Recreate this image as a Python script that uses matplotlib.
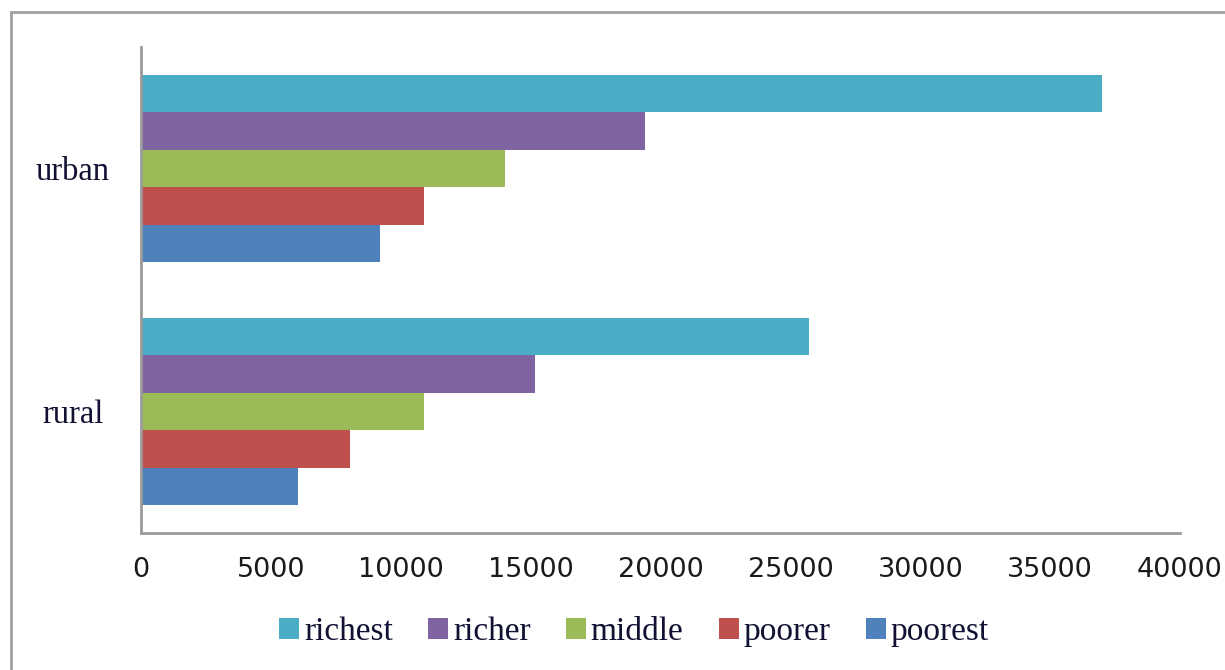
import matplotlib
matplotlib.use("Agg")
import matplotlib.pyplot as plt
from matplotlib.patches import Rectangle, Patch
import numpy as np

categories = ["rural", "urban"]
series = ["richest", "richer", "middle", "poorer", "poorest"]
richest = [25700, 37000]
richer = [15150, 19400]
middle = [10900, 14000]
poorer = [8050, 10900]
poorest = [6050, 9200]
values = [richest, richer, middle, poorer, poorest]
colors = ["#4BACC6", "#8064A2", "#9BBB59", "#C0504D", "#4F81BD"]
xticks = [0, 5000, 10000, 15000, 20000, 25000, 30000, 35000, 40000]

fig = plt.figure(figsize=(12.25, 6.7), dpi=100)
W, H = 1225, 670
ax = fig.add_axes([141 / W, 1 - 533 / H, (1180 - 141) / W, (533 - 47) / H])

bh = 0.154
y = np.arange(len(categories))
for i, (name, vals, c) in enumerate(zip(series, values, colors)):
    off = (2 - i) * bh
    ax.barh(y + off, vals, height=bh, color=c, label=name, linewidth=0)

ax.set_ylim(-0.5, 1.5)
ax.set_xlim(0, 40000)
ax.set_yticks(y)
ax.set_yticklabels(categories, fontsize=23.5, family="Liberation Serif", color="#111133",
                   ha="center")
ax.set_xticks(xticks)
ax.set_xticklabels([str(t) for t in xticks], fontsize=19.5, family="DejaVu Sans", color="#1a1a1a")
ax.tick_params(axis="both", length=0)
ax.tick_params(axis="x", pad=17)
ax.tick_params(axis="y", pad=49)
for s in ["top", "right"]:
    ax.spines[s].set_visible(False)
for s in ["left", "bottom"]:
    ax.spines[s].set_color("#9a9a9a")
    ax.spines[s].set_linewidth(2)

handles = [Patch(facecolor=c, label=n) for n, c in zip(series, colors)]
fig.legend(handles=handles, loc="center", bbox_to_anchor=(634 / W, 1 - 632 / H),
           ncol=5, frameon=False, prop={"family": "Liberation Serif", "size": 24},
           handlelength=0.6, handleheight=0.6, handletextpad=0.15, columnspacing=1.05,
           labelcolor="#111133")

fig.patches.append(Rectangle((11 / W, -0.05), 1.1, (670 - 12) / H + 0.05,
                             transform=fig.transFigure, fill=False,
                             edgecolor="#a0a0a0", linewidth=2))

fig.savefig("out.png", dpi=100)
